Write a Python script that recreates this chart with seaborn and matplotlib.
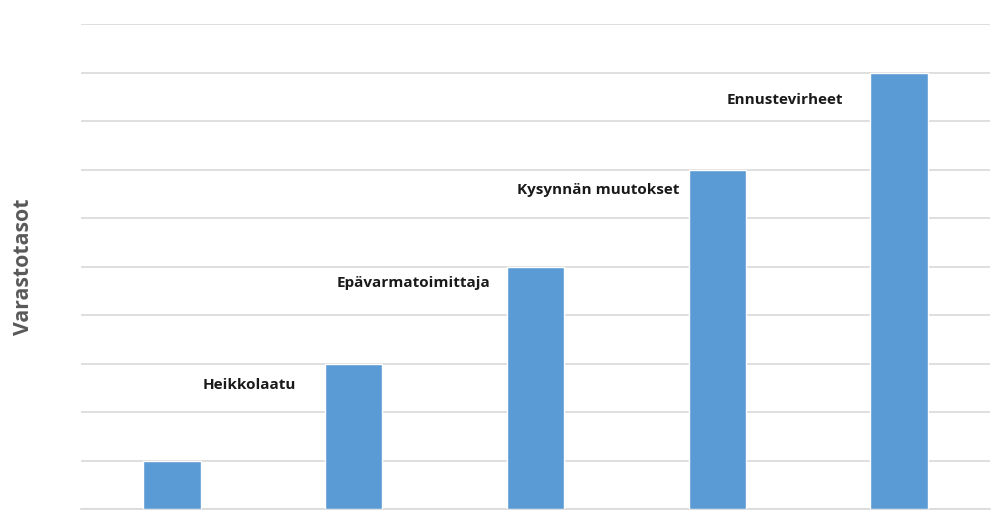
import matplotlib
matplotlib.use("Agg")
import matplotlib.pyplot as plt
import seaborn as sns
import pandas as pd

# Inventory levels driven by successive sources of uncertainty
categories = ["Perustaso", "Heikkolaatu", "Epävarmatoimittaja", "Kysynnän muutokset", "Ennustevirheet"]
values = [1, 3, 5, 7, 9]
# Label texts shown next to the bars (first bar is unlabeled)
labels = ["", "Heikkolaatu", "Epävarmatoimittaja", "Kysynnän muutokset", "Ennustevirheet"]
label_x = [0.0, 0.17, 0.905, 1.90, 3.05]
label_y = [0.0, 2.56, 4.66, 6.58, 8.43]

df = pd.DataFrame({"kategoria": categories, "arvo": values})

sns.set_theme(style="white")
plt.rcParams["font.family"] = ["Open Sans", "DejaVu Sans"]

fig = plt.figure(figsize=(10.04, 5.17), dpi=100)
ax = fig.add_axes([81 / 1004, 8 / 517, 909 / 1004, 485 / 517])

sns.barplot(data=df, x="kategoria", y="arvo", color="#5B9BD5", width=0.315,
            saturation=1, ax=ax, zorder=3)

ax.set_ylim(0, 10)
ax.set_xlim(-0.5, 4.5)
ax.set_yticks(range(0, 11))
ax.yaxis.grid(True, color="#D9D9D9", linewidth=1.2, zorder=0)
ax.set_axisbelow(True)
ax.tick_params(left=False, bottom=False, labelleft=False, labelbottom=False)
for side in ["top", "right", "left"]:
    ax.spines[side].set_visible(False)
ax.spines["bottom"].set_color("#D9D9D9")
ax.spines["bottom"].set_linewidth(1.2)
ax.set_xlabel("")
ax.set_ylabel("Varastotasot", fontsize=15.3, fontweight="bold", color="#595959")
ax.yaxis.set_label_coords(-47 / 909, 0.5)

for t, x, y in zip(labels, label_x, label_y):
    if t:
        ax.text(x, y, t, ha="left", va="center", fontsize=11, fontweight="bold", color="#1a1a1a")

fig.savefig("out.png", dpi=100)
